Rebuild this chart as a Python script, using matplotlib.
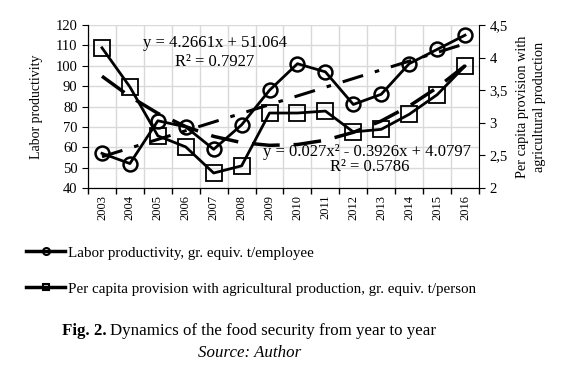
import numpy as np
import matplotlib
matplotlib.use('Agg')
import matplotlib.pyplot as plt
from matplotlib.lines import Line2D

plt.rcParams['font.family'] = ['Liberation Serif', 'DejaVu Serif']

# data
years = ['2003', '2004', '2005', '2006', '2007', '2008', '2009', '2010',
         '2011', '2012', '2013', '2014', '2015', '2016']
labor = [57, 52, 73, 70, 59, 71, 88, 101, 97, 81, 86, 101, 108, 115]
provision = [4.15, 3.55, 2.80, 2.63, 2.23, 2.34, 3.15, 3.15, 3.18, 2.86, 2.90, 3.13, 3.43, 3.87]

# trend lines given on the chart
lin_coef = [4.2661, 51.064]
quad_coef = [0.027, -0.3926, 4.0797]

fig = plt.figure(figsize=(5.81, 3.77), dpi=100)
ax = fig.add_axes([0.1515, 0.5013, 0.6729, 0.4324])
ax2 = ax.twinx()

x = np.arange(len(years))
t = x + 1

# gridlines at category boundaries and at every y tick
ax.set_xlim(-0.5, len(years) - 0.5)
ax.set_xticks(x)
ax.set_xticklabels(years, rotation=90, fontsize=9)
ax.set_xticks(np.arange(len(years) + 1) - 0.5, minor=True)
ax.tick_params(axis='x', which='major', length=0, pad=5)
ax.tick_params(axis='x', which='minor', length=4, width=1, direction='out')
ax.grid(True, which='minor', axis='x', color='#d9d9d9', lw=1)
ax.grid(True, which='major', axis='y', color='#d9d9d9', lw=1)
ax.set_axisbelow(True)

ax.set_ylim(40, 120)
ax.set_yticks(range(40, 121, 10))
ax.tick_params(axis='y', labelsize=10.5, length=4, direction='out')
ax.set_ylabel('Labor productivity', fontsize=10, labelpad=9)

ax2.set_ylim(2, 4.5)
ax2.set_yticks([2, 2.5, 3, 3.5, 4, 4.5])
ax2.set_yticklabels(['2', '2,5', '3', '3,5', '4', '4,5'])
ax2.tick_params(axis='y', labelsize=10.5, length=4, direction='out')
ax2.set_ylabel('Per capita provision with\nagricultural production', fontsize=10.3,
               labelpad=6, linespacing=1.4)

for a in (ax, ax2):
    a.spines['top'].set_visible(False)
    for s in ('left', 'right', 'bottom'):
        a.spines[s].set_color('black')
ax.spines['right'].set_visible(False)

# data series
ax.plot(x, labor, color='black', lw=2, marker='o', ms=10, mfc='none', mew=1.8, zorder=3)
ax2.plot(x, provision, color='black', lw=2, marker='s', ms=12, mfc='none', mew=1.3, zorder=3)

# trend lines
ax.plot(x, np.polyval(lin_coef, t), color='black', lw=2.2, dashes=(7, 4, 1.5, 4), zorder=2)
ax2.plot(x, np.polyval(quad_coef, t), color='black', lw=2.5, dashes=(8, 4), zorder=2)

ax.text(215 / 581, 1 - 43 / 377, 'y = 4.2661x + 51.064', transform=fig.transFigure,
        ha='center', va='center', fontsize=12, zorder=4)
ax.text(215 / 581, 1 - 62 / 377, 'R² = 0.7927', transform=fig.transFigure,
        ha='center', va='center', fontsize=12, zorder=4)
ax.text(367 / 581, 1 - 152 / 377, 'y = 0.027x² - 0.3926x + 4.0797', transform=fig.transFigure,
        ha='center', va='center', fontsize=12, zorder=4)
ax.text(370 / 581, 1 - 167 / 377, 'R² = 0.5786', transform=fig.transFigure,
        ha='center', va='center', fontsize=12, zorder=4)

# legend below the chart
handles = [
    Line2D([], [], color='black', lw=2.5, marker='o', ms=5, mfc='none', mew=1.5),
    Line2D([], [], color='black', lw=2.5, marker='s', ms=5, mfc='none', mew=1.5),
]
labels = ['Labor productivity, gr. equiv. t/employee',
          'Per capita provision with agricultural production, gr. equiv. t/person']
fig.legend(handles, labels, loc='upper left', bbox_to_anchor=(0.035, 0.363),
           frameon=False, fontsize=10.8, labelspacing=1.5, handlelength=2.6,
           handletextpad=0.2, borderaxespad=0)

# caption
fig.text(0.107, 0.122, 'Fig. 2.', fontsize=12.2, fontweight='bold', va='center', ha='left')
fig.text(0.19, 0.122, 'Dynamics of the food security from year to year', fontsize=12.2,
         va='center', ha='left')
fig.text(0.43, 0.063, 'Source: Author', fontsize=12.2, style='italic', va='center', ha='center')

fig.savefig('out.png', dpi=100)
